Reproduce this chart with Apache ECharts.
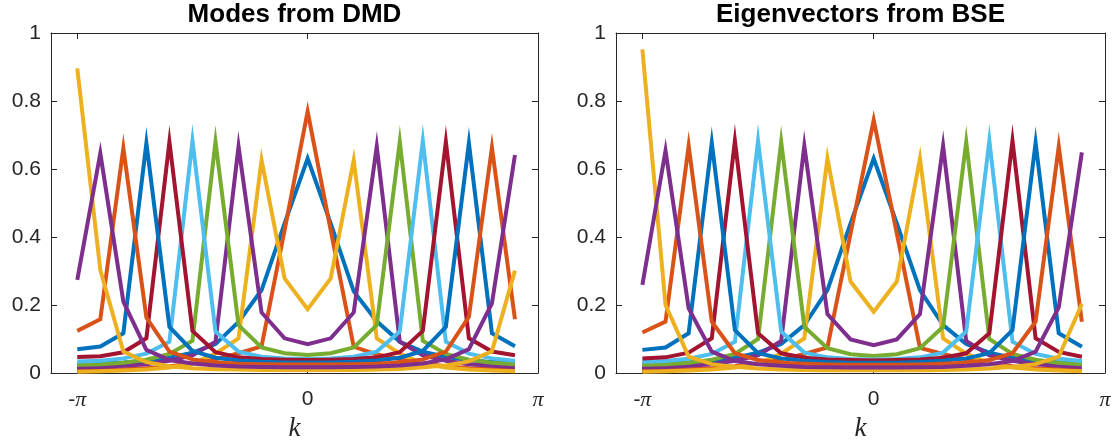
<!DOCTYPE html>
<html>
<head>
<meta charset="utf-8">
<script src="https://cdn.jsdelivr.net/npm/echarts/dist/echarts.min.js"></script>
<style>
html,body{margin:0;padding:0;background:#fff;}
#chart{width:1120px;height:443px;}
</style>
</head>
<body>
<div id="chart"></div>
<script>
// k grid points (-pi ... pi - pi/10)
const k = [-3.1416,-2.8274,-2.5133,-2.1991,-1.8850,-1.5708,-1.2566,-0.9425,-0.6283,-0.3142,
           0,0.3142,0.6283,0.9425,1.2566,1.5708,1.8850,2.1991,2.5133,2.8274];

const titles = ['Modes from DMD', 'Eigenvectors from BSE'];
const xTickLabels = ['-π', '0', 'π'];
const yTickLabels = ['0', '0.2', '0.4', '0.6', '0.8', '1'];

// Left panel: Modes from DMD
const dmd1  = [0.027,0.028,0.031,0.036,0.045,0.060,0.085,0.150,0.244,0.440,0.631,0.440,0.240,0.152,0.092,0.063,0.047,0.038,0.032,0.029];
const dmd2  = [0.008,0.009,0.011,0.014,0.020,0.028,0.040,0.058,0.078,0.420,0.769,0.420,0.077,0.055,0.040,0.028,0.020,0.014,0.011,0.009];
const dmd3  = [0.004,0.005,0.007,0.010,0.016,0.028,0.057,0.102,0.626,0.278,0.188,0.278,0.626,0.102,0.057,0.028,0.016,0.010,0.007,0.005];
const dmd4  = [0.017,0.018,0.021,0.026,0.036,0.052,0.092,0.666,0.178,0.102,0.085,0.102,0.178,0.666,0.092,0.052,0.036,0.026,0.021,0.018];
const dmd5  = [0.024,0.026,0.030,0.039,0.056,0.095,0.680,0.141,0.075,0.058,0.053,0.058,0.075,0.141,0.680,0.095,0.056,0.039,0.030,0.026];
const dmd6  = [0.034,0.036,0.043,0.057,0.092,0.683,0.122,0.063,0.048,0.043,0.041,0.043,0.048,0.063,0.122,0.683,0.092,0.057,0.043,0.036];
const dmd7  = [0.047,0.049,0.061,0.102,0.680,0.124,0.061,0.046,0.041,0.039,0.038,0.039,0.041,0.046,0.061,0.124,0.680,0.102,0.063,0.052];
const dmd8  = [0.070,0.078,0.117,0.676,0.136,0.065,0.045,0.037,0.033,0.031,0.031,0.031,0.033,0.037,0.045,0.065,0.136,0.676,0.117,0.079];
const dmd9  = [0.124,0.158,0.661,0.163,0.063,0.040,0.031,0.027,0.026,0.025,0.025,0.025,0.026,0.027,0.031,0.040,0.063,0.165,0.663,0.158];
const dmd10 = [0.896,0.303,0.063,0.032,0.020,0.014,0.011,0.010,0.009,0.009,0.009,0.009,0.009,0.010,0.012,0.017,0.022,0.034,0.064,0.301];
const dmd11 = [0.274,0.646,0.210,0.068,0.038,0.028,0.022,0.019,0.018,0.017,0.017,0.017,0.018,0.019,0.022,0.028,0.040,0.070,0.205,0.641];

// Right panel: Eigenvectors from BSE
const bse1  = [0.027,0.028,0.031,0.036,0.045,0.060,0.085,0.141,0.244,0.440,0.631,0.440,0.244,0.141,0.085,0.060,0.045,0.036,0.031,0.028];
const bse2  = [0.008,0.009,0.011,0.014,0.020,0.028,0.040,0.056,0.075,0.410,0.744,0.410,0.074,0.056,0.040,0.028,0.020,0.014,0.011,0.009];
const bse3  = [0.004,0.005,0.007,0.010,0.016,0.028,0.057,0.102,0.631,0.269,0.180,0.269,0.631,0.102,0.057,0.028,0.016,0.010,0.007,0.005];
const bse4  = [0.017,0.018,0.021,0.026,0.036,0.052,0.094,0.668,0.173,0.099,0.082,0.099,0.173,0.668,0.094,0.052,0.036,0.026,0.021,0.018];
const bse5  = [0.024,0.026,0.030,0.039,0.056,0.100,0.680,0.136,0.073,0.055,0.050,0.055,0.073,0.136,0.680,0.100,0.056,0.039,0.030,0.026];
const bse6  = [0.033,0.035,0.042,0.056,0.092,0.683,0.122,0.060,0.046,0.041,0.040,0.041,0.046,0.060,0.122,0.683,0.092,0.056,0.042,0.035];
const bse7  = [0.043,0.046,0.060,0.102,0.683,0.117,0.058,0.045,0.040,0.038,0.037,0.038,0.040,0.045,0.058,0.117,0.683,0.102,0.062,0.048];
const bse8  = [0.068,0.075,0.117,0.677,0.126,0.058,0.043,0.036,0.032,0.030,0.030,0.030,0.032,0.036,0.043,0.058,0.126,0.677,0.117,0.077];
const bse9  = [0.119,0.151,0.668,0.151,0.058,0.038,0.030,0.027,0.025,0.024,0.024,0.024,0.025,0.027,0.030,0.038,0.058,0.151,0.666,0.151];
const bse10 = [0.952,0.200,0.048,0.026,0.018,0.013,0.010,0.009,0.008,0.008,0.008,0.008,0.008,0.009,0.010,0.013,0.018,0.026,0.048,0.203];
const bse11 = [0.259,0.654,0.190,0.063,0.035,0.026,0.021,0.018,0.017,0.016,0.016,0.016,0.017,0.018,0.021,0.026,0.035,0.063,0.193,0.649];

const dmdSeries = [dmd1,dmd2,dmd3,dmd4,dmd5,dmd6,dmd7,dmd8,dmd9,dmd10,dmd11];
const bseSeries = [bse1,bse2,bse3,bse4,bse5,bse6,bse7,bse8,bse9,bse10,bse11];

const colors = ['#0072BD','#D95319','#EDB120','#7E2F8E','#77AC30','#4DBEEE','#A2142F'];
const xTicks = [-Math.PI, 0, Math.PI];
const yTicks = [0, 0.2, 0.4, 0.6, 0.8, 1];

const AX = '#262626';
const SANS = 'Liberation Sans, Arial, Helvetica, sans-serif';
const SERIF = 'Liberation Serif, DejaVu Serif, serif';

const grids = [
  {left: 51, top: 33, width: 487, height: 340, containLabel: false, outerBoundsMode: 'none'},
  {left: 616, top: 33, width: 489, height: 340, containLabel: false, outerBoundsMode: 'none'}
];

function xLabelFmt(v) {
  let best = 0, d = Infinity;
  xTicks.forEach((t, i) => { if (Math.abs(t - v) < d) { d = Math.abs(t - v); best = i; } });
  const s = xTickLabels[best];
  return s.replace('π', '{pi|π}');
}
function yLabelFmt(v) {
  let best = 0, d = Infinity;
  yTicks.forEach((t, i) => { if (Math.abs(t - v) < d) { d = Math.abs(t - v); best = i; } });
  return yTickLabels[best];
}

const xAxes = [], yAxes = [], series = [];
[0, 1].forEach(g => {
  xAxes.push({
    type: 'value', gridIndex: g, min: -3.5, max: Math.PI, position: 'bottom',
    axisLine: {show: true, onZero: false, lineStyle: {color: AX, width: 1}},
    axisTick: {show: true, inside: true, length: 6, customValues: xTicks, lineStyle: {color: AX}},
    axisLabel: {show: true, customValues: xTicks, formatter: xLabelFmt, margin: 16,
      color: AX, fontSize: 21, fontFamily: SANS,
      rich: {pi: {fontFamily: SERIF, fontStyle: 'italic', fontSize: 22, color: AX}}},
    splitLine: {show: false},
    name: 'k', nameLocation: 'middle', nameGap: 42,
    nameTextStyle: {fontFamily: SERIF, fontStyle: 'italic', fontSize: 27, color: AX}
  });
  xAxes.push({
    type: 'value', gridIndex: g, min: -3.5, max: Math.PI, position: 'top',
    axisLine: {show: true, onZero: false, lineStyle: {color: AX, width: 1}},
    axisTick: {show: true, inside: true, length: 6, customValues: xTicks, lineStyle: {color: AX}},
    axisLabel: {show: false}, splitLine: {show: false}
  });
  yAxes.push({
    type: 'value', gridIndex: g, min: 0, max: 1, interval: 0.2, position: 'left',
    axisLine: {show: true, onZero: false, lineStyle: {color: AX, width: 1}},
    axisTick: {show: true, inside: true, length: 6, lineStyle: {color: AX}},
    axisLabel: {show: true, formatter: yLabelFmt, margin: 10, color: AX, fontSize: 21, fontFamily: SANS},
    splitLine: {show: false}
  });
  yAxes.push({
    type: 'value', gridIndex: g, min: 0, max: 1, interval: 0.2, position: 'right',
    axisLine: {show: true, onZero: false, lineStyle: {color: AX, width: 1}},
    axisTick: {show: true, inside: true, length: 6, lineStyle: {color: AX}},
    axisLabel: {show: false}, splitLine: {show: false}
  });
  const set = g === 0 ? dmdSeries : bseSeries;
  set.forEach((vals, i) => {
    series.push({
      type: 'line', xAxisIndex: g * 2, yAxisIndex: g * 2,
      data: vals.map((v, j) => [k[j], v]),
      showSymbol: false, symbol: 'none', silent: true,
      lineStyle: {color: colors[i % colors.length], width: 4, join: 'miter'},
      z: 2 + i
    });
  });
});

const chart = echarts.init(document.getElementById('chart'), null, {renderer: 'canvas'});
chart.setOption({
  animation: false,
  backgroundColor: '#fff',
  grid: grids,
  xAxis: xAxes,
  yAxis: yAxes,
  series: series,
  graphic: [
    {type: 'text', x: 51 + 487 / 2, y: 2, style: {text: titles[0], textAlign: 'center', textVerticalAlign: 'top',
      fontFamily: SANS, fontWeight: 'bold', fontSize: 26, fill: '#000'}},
    {type: 'text', x: 616 + 489 / 2, y: 2, style: {text: titles[1], textAlign: 'center', textVerticalAlign: 'top',
      fontFamily: SANS, fontWeight: 'bold', fontSize: 26, fill: '#000'}}
  ]
});
</script>
</body>
</html>
